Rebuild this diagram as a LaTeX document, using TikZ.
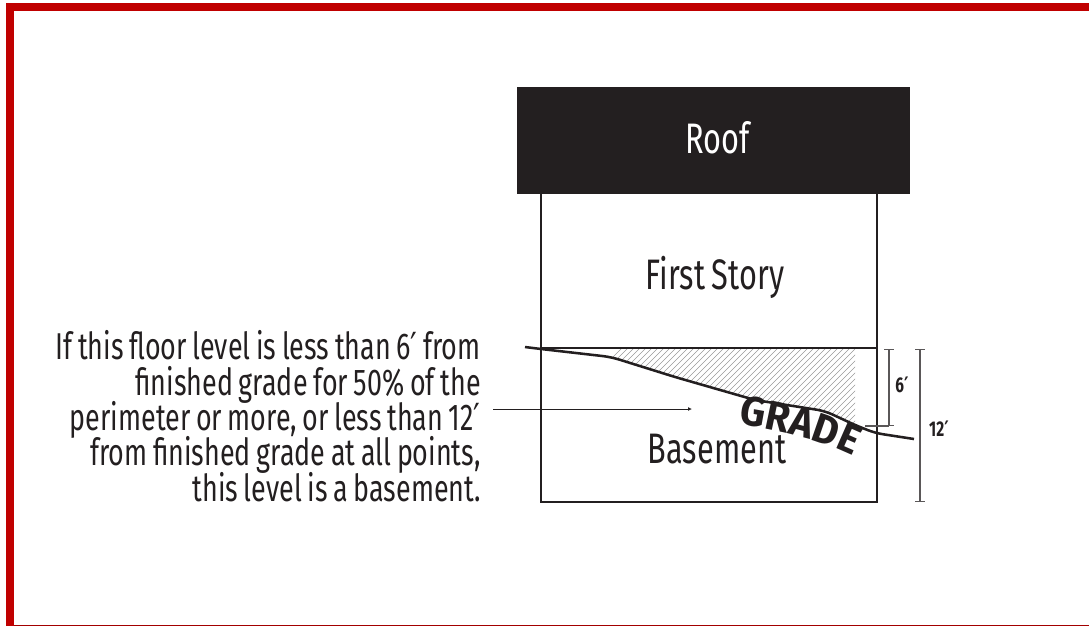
\documentclass[tikz,border=0pt]{standalone}
\usepackage{fontspec}
\usepackage{xcolor}
\setmainfont[FakeStretch=0.72,WordSpace=0.8]{Fira Sans}
\newfontfamily\gradefont[FakeStretch=0.95]{Fira Sans}
\newfontfamily\primefont[FakeStretch=0.8]{DejaVu Sans}
\newcommand{\ftmark}{{\primefont ′}}
\setlength{\lineskiplimit}{-20pt}
\usetikzlibrary{arrows.meta,decorations.text}
\definecolor{framered}{HTML}{C00000}
\definecolor{inkgray}{HTML}{231F20}
\tikzset{
    wall/.style={draw=inkgray,line width=1.8pt},
    dimline/.style={draw=inkgray!75,line width=0.9pt,{Bar[width=7pt]}-{Bar[width=7pt]}},
    storylabel/.style={text=inkgray,font=\fontsize{32}{34}\selectfont},
    dimlabel/.style={text=inkgray,font=\bfseries\fontsize{16}{18}\selectfont},
}

\begin{document}
\begin{tikzpicture}[x=0.75pt,y=-0.75pt]

    \useasboundingbox (0,0) rectangle (1089,626);

    % frame
    \fill[framered] (6,3) rectangle (1089,11);
    \fill[framered] (6,3) rectangle (14,626);
    \fill[framered!85!black] (14,625) rectangle (1089,626);

    % hatching under the floor
    \begin{scope}
        \clip (541,349) -- (611,357) -- (675,377) -- (755,400) -- (825,411) -- (855,427) -- (855,349) -- cycle;
        \foreach \i in {0,...,62}
            \draw[gray!80,line width=0.3pt] (540+6*\i,430) -- (625+6*\i,345);
    \end{scope}

    % building
    \node[fill=inkgray,text=white,minimum width=295pt,minimum height=80pt,inner sep=0pt] (roofbox) at (713.5,140.5) {};
    \node[text=white,font=\fontsize{32}{34}\selectfont] (roof) at (718,138) {Roof};
    \coordinate (wallnw) at (541,194);
    \coordinate (wallne) at (877,194);
    \coordinate (floorw) at (541,348);
    \coordinate (floore) at (877,348);
    \coordinate (wallsw) at (541,502);
    \coordinate (wallse) at (877,502);
    \draw[wall] (wallnw) -- (wallsw) -- (wallse) -- (wallne);
    \draw[wall] (floorw) -- (floore);

    \node[storylabel] (first) at (715,277) {First Story};
    \node[storylabel] (basement) at (717,449) {Basement};

    % grade line
    \coordinate (gradea) at (525,347);
    \coordinate (gradeb) at (914,439);
    \draw[inkgray,line width=1.9pt,rounded corners=6pt] (gradea) -- (541,349) -- (611,357) -- (675,377) -- (755,400) -- (825,411) -- (855,425) -- (875,433) -- (gradeb);
    \path[decorate,decoration={text along path,text align=center,
        text={|\gradefont\bfseries\fontsize{31}{31}\selectfont\color{inkgray}|GRADE}}]
        (722,421) .. controls (778,431) and (820,437) .. (868,464);

    % dimensions
    \coordinate (sixa) at (889,349);
    \coordinate (sixb) at (889,426);
    \coordinate (twelvea) at (920,349);
    \coordinate (twelveb) at (920,502);
    \draw[dimline] (sixa) -- (sixb);
    \draw[dimline] (twelvea) -- (twelveb);
    \draw[inkgray!75,line width=0.8pt] (865,426) -- (sixb);
    \node[dimlabel] (six) at (902,385) {6\ftmark};
    \node[dimlabel] (twelve) at (939,429) {12\ftmark};

    % note
    \node[anchor=east,align=right,inner sep=0pt,text=inkgray,font=\fontsize{28}{26.5}\selectfont] (note) at (481,416) {If this floor level is less than 6\ftmark{} from\\finished grade for 50\% of the\\perimeter or more, or less than 12\ftmark\\from finished grade at all points,\\this level is a basement.};
    \coordinate (arrowtip) at (692,409);
    \draw[inkgray,line width=0.7pt,-{Latex[length=3pt,width=3pt]}] (note.east |- arrowtip) ++(12,0) -- (arrowtip);

\end{tikzpicture}
\end{document}
